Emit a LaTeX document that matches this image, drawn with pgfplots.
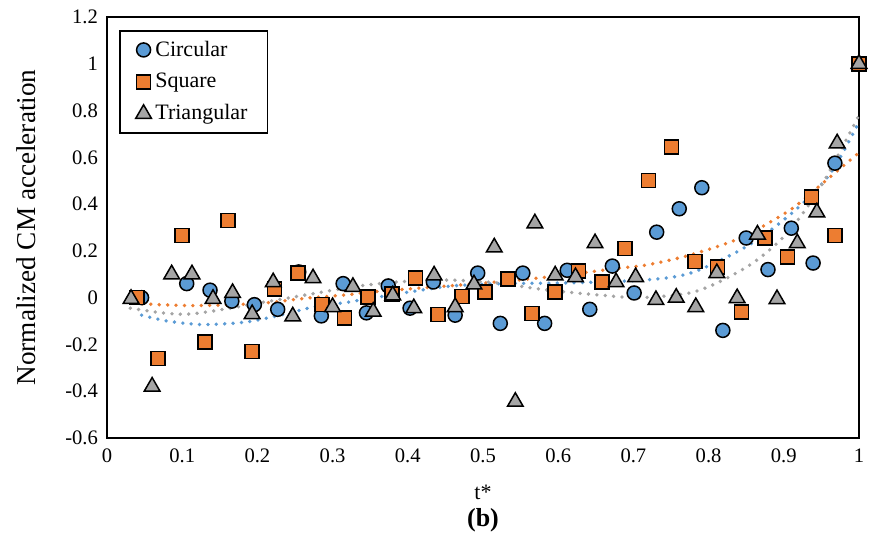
\documentclass[border=0pt]{standalone}
\usepackage{fontspec}
\setmainfont{Liberation Serif}
\usepackage{pgfplots}
\pgfplotsset{compat=1.18}
\definecolor{cblue}{HTML}{5B9BD5}
\definecolor{corange}{HTML}{ED7D31}
\definecolor{cgrey}{HTML}{A5A5A5}
\begin{document}
\begin{tikzpicture}
\begin{axis}[
  scale only axis, width=376pt, height=210.5pt,
  xmin=0, xmax=1, ymin=-0.6, ymax=1.2,
  xtick={0,0.1,0.2,0.3,0.4,0.5,0.6,0.7,0.8,0.9,1},
  xticklabels={0,0.1,0.2,0.3,0.4,0.5,0.6,0.7,0.8,0.9,1},
  ytick={-0.6,-0.4,-0.2,0,0.2,0.4,0.6,0.8,1,1.2},
  yticklabels={-0.6,-0.4,-0.2,0,0.2,0.4,0.6,0.8,1,1.2},
  tick label style={font=\fontsize{10.3}{12}\selectfont},
  xticklabel style={yshift=-2pt},
  yticklabel style={xshift=-1pt},
  major tick length=0pt,
  axis line style={line width=1pt},
  xlabel={t*},
  xlabel style={at={(axis description cs:0.5,-0.13)}, anchor=center, font=\fontsize{11}{13}\selectfont},
  ylabel={Normalized CM acceleration},
  ylabel style={at={(axis description cs:-0.1077,0.5)}, anchor=center, font=\fontsize{13.6}{15}\selectfont},
  legend style={at={(0.016,0.969)}, anchor=north west, draw=black, line width=0.75pt,
    font=\fontsize{11}{13}\selectfont, row sep=3pt, inner xsep=8pt, inner ysep=3pt,
    /tikz/every even column/.append style={column sep=0pt}},
  legend cell align=left,
  clip=false
]
\addplot[only marks, mark=*, mark size=3.5pt, mark options={fill=cblue, draw=black, line width=0.75pt}] coordinates {
(0.046,0.0) (0.106,0.06) (0.137,0.032) (0.166,-0.015) (0.196,-0.03) (0.227,-0.05)
(0.255,0.11) (0.285,-0.078) (0.314,0.06) (0.345,-0.065) (0.374,0.05) (0.403,-0.045)
(0.434,0.067) (0.463,-0.075) (0.493,0.105) (0.523,-0.11) (0.553,0.105) (0.582,-0.11)
(0.612,0.117) (0.642,-0.05) (0.672,0.135) (0.701,0.02) (0.731,0.28) (0.761,0.38)
(0.791,0.47) (0.819,-0.14) (0.85,0.255) (0.879,0.12) (0.91,0.297) (0.939,0.148)
(0.968,0.575) (1.0,1.0)
};
\addlegendentry{Circular}
\addplot[only marks, mark=square*, mark size=3.5pt, mark options={fill=corange, draw=black, line width=0.75pt}] coordinates {
(0.04,0.0) (0.068,-0.26) (0.1,0.265) (0.13,-0.19) (0.161,0.33) (0.193,-0.23)
(0.223,0.036) (0.254,0.105) (0.286,-0.03) (0.316,-0.087) (0.347,0.002) (0.379,0.015)
(0.41,0.085) (0.44,-0.072) (0.472,0.005) (0.503,0.025) (0.533,0.08) (0.565,-0.068)
(0.596,0.025) (0.627,0.115) (0.658,0.066) (0.689,0.21) (0.72,0.5) (0.751,0.645)
(0.782,0.155) (0.812,0.13) (0.844,-0.062) (0.875,0.255) (0.905,0.174) (0.937,0.43)
(0.968,0.265) (1.0,1.0)
};
\addlegendentry{Square}
\addplot[only marks, mark=triangle*, mark size=4.5pt, mark options={fill=cgrey, draw=black, line width=0.75pt}] coordinates {
(0.032,-0.005) (0.06,-0.38) (0.086,0.1) (0.113,0.1) (0.141,-0.005) (0.167,0.02)
(0.193,-0.07) (0.221,0.066) (0.247,-0.08) (0.274,0.083) (0.30,-0.04) (0.327,0.046)
(0.354,-0.06) (0.38,0.01) (0.408,-0.045) (0.435,0.095) (0.463,-0.04) (0.488,0.057)
(0.515,0.215) (0.543,-0.445) (0.569,0.318) (0.596,0.095) (0.623,0.088) (0.649,0.233)
(0.677,0.066) (0.703,0.088) (0.73,-0.01) (0.757,0.0) (0.783,-0.04) (0.811,0.105)
(0.838,-0.002) (0.865,0.27) (0.891,-0.006) (0.918,0.233) (0.944,0.365) (0.971,0.66)
(1.0,1.0)
};
\addlegendentry{Triangular}
% trendlines
\addplot[forget plot, smooth, no marks, cblue, line width=1.9pt, line cap=round, dash pattern=on 0pt off 4.2pt] coordinates {
(0.046,-0.075) (0.08,-0.1) (0.126,-0.115) (0.183,-0.105) (0.23,-0.075) (0.275,-0.04)
(0.319,-0.02) (0.39,0.018) (0.456,0.049) (0.523,0.06) (0.611,0.063) (0.713,0.075)
(0.775,0.104) (0.842,0.203) (0.886,0.297) (0.93,0.417) (0.965,0.545) (1.0,0.75)
};
\addplot[forget plot, smooth, no marks, corange, line width=1.9pt, line cap=round, dash pattern=on 0pt off 4.2pt] coordinates {
(0.036,-0.024) (0.07,-0.03) (0.115,-0.034) (0.169,-0.03) (0.213,-0.022) (0.266,-0.002)
(0.319,0.012) (0.35,0.024) (0.412,0.04) (0.5,0.062) (0.589,0.089) (0.678,0.125)
(0.718,0.14) (0.775,0.182) (0.842,0.255) (0.908,0.374) (0.952,0.49) (1.0,0.62)
};
\addplot[forget plot, smooth, no marks, cgrey, line width=1.9pt, line cap=round, dash pattern=on 0pt off 4.2pt] coordinates {
(0.031,-0.045) (0.076,-0.066) (0.11,-0.07) (0.155,-0.05) (0.2,-0.024) (0.244,0.0)
(0.288,0.025) (0.336,0.05) (0.39,0.068) (0.456,0.075) (0.523,0.062) (0.567,0.04)
(0.611,0.024) (0.656,0.011) (0.709,0.0) (0.775,0.02) (0.819,0.075) (0.864,0.16)
(0.908,0.288) (0.952,0.49) (1.0,0.78)
};
\node[font=\bfseries\fontsize{13}{15}\selectfont] at (axis description cs:0.5,-0.195) {(b)};
\path (axis description cs:-0.1423,-0.2399) rectangle (axis description cs:1.0253,1.0404);
\end{axis}
\end{tikzpicture}
\end{document}
